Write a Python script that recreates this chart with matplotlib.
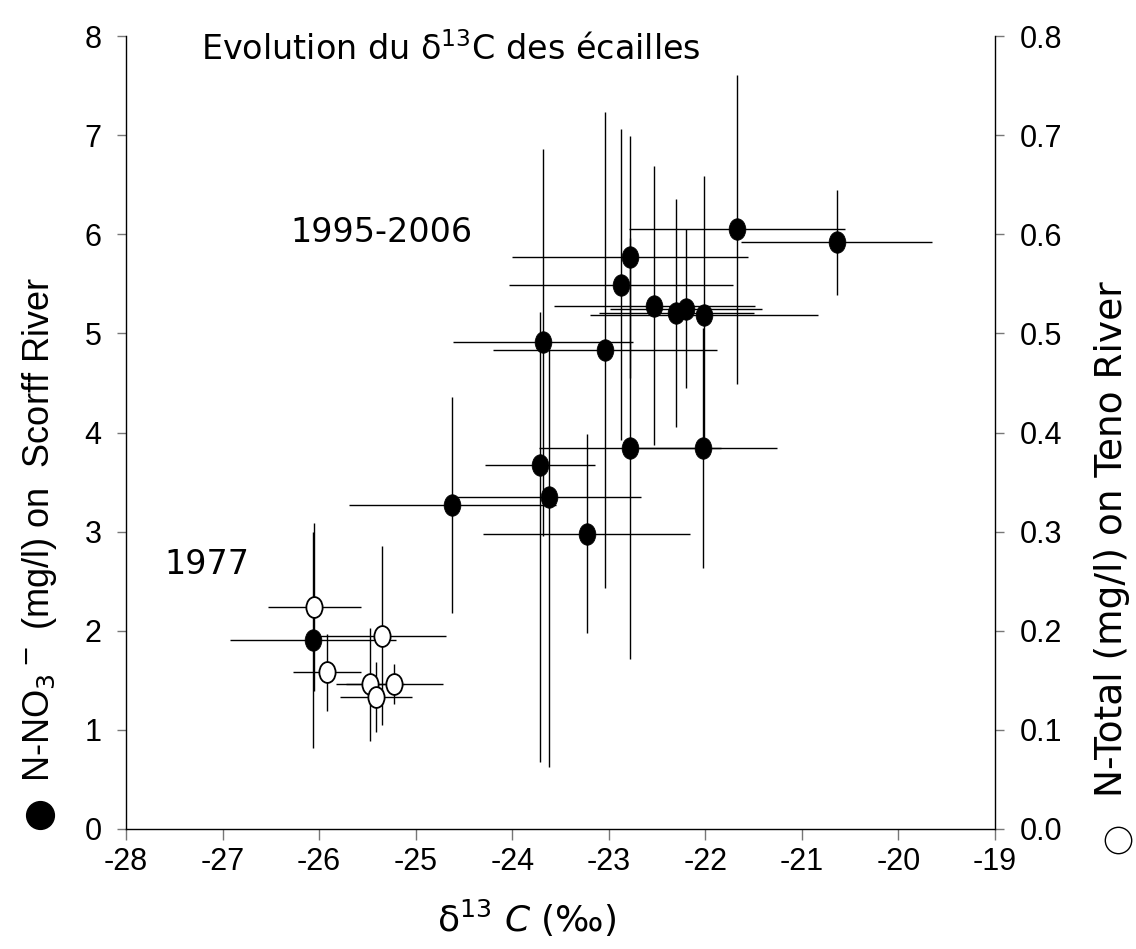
import matplotlib
matplotlib.use('Agg')
import matplotlib.pyplot as plt
from matplotlib.path import Path
from matplotlib.transforms import Affine2D
from matplotlib.lines import Line2D

# ---------------- data ----------------
# Scorff River (filled symbols, left axis): d13C of scales vs N-NO3- (mg/l)
scorff_d13c = [-20.64, -21.67, -22.78, -22.87, -22.53, -22.30, -22.20, -22.01,
               -23.68, -23.04, -22.78, -22.02, -23.71, -23.62, -24.62, -23.23, -26.06]
scorff_d13c_err = [0.99, 1.12, 1.22, 1.16, 1.04, 0.80, 0.79, 1.18,
                   0.93, 1.16, 0.94, 0.76, 0.57, 0.95, 1.07, 1.07, 0.86]
scorff_no3 = [5.92, 6.05, 5.77, 5.49, 5.28, 5.21, 5.25, 5.19,
              4.91, 4.83, 3.84, 3.84, 3.67, 3.35, 3.27, 2.98, 1.91]
scorff_no3_err_low = [0.53, 1.56, 1.22, 1.57, 1.41, 1.15, 0.80, 1.40,
                      1.95, 2.40, 2.12, 1.21, 2.99, 2.72, 1.09, 1.00, 1.09]
scorff_no3_err_high = [0.53, 1.56, 1.22, 1.57, 1.41, 1.15, 0.80, 1.40,
                       1.95, 2.40, 2.12, 1.21, 1.55, 1.49, 1.09, 1.00, 1.09]

# Teno River (open symbols, right axis): d13C vs N-Total (mg/l)
teno_d13c = [-26.05, -25.35, -25.92, -25.47, -25.22, -25.41]
teno_d13c_err = [0.48, 0.66, 0.35, 0.35, 0.50, 0.37]
teno_ntot = [0.224, 0.195, 0.158, 0.146, 0.146, 0.133]
teno_ntot_err = [0.085, 0.090, 0.039, 0.057, 0.020, 0.035]

x_ticks = [-28, -27, -26, -25, -24, -23, -22, -21, -20, -19]
y_left_ticks = [0, 1, 2, 3, 4, 5, 6, 7, 8]
y_right_ticks = [0.0, 0.1, 0.2, 0.3, 0.4, 0.5, 0.6, 0.7, 0.8]

# ---------------- figure ----------------
plt.rcParams['font.family'] = ['Liberation Sans', 'DejaVu Sans']

W, H = 1136, 949
fig = plt.figure(figsize=(W / 100, H / 100), dpi=100)

def fx(px):
    return px / W

def fy(py):
    return 1 - py / H

ax = fig.add_axes([fx(126), fy(829), (995 - 126) / W, (829 - 36) / H])
ax.set_xlim(-28, -19)
ax.set_ylim(0, 8)
ax2 = ax.twinx()
ax2.set_ylim(0, 0.8)

# ellipse marker (taller than wide)
ell = Path.unit_circle().transformed(Affine2D().scale(0.78, 1.0))

comic = ['DejaVu Sans']

# error bars
ax.errorbar(scorff_d13c, scorff_no3, xerr=scorff_d13c_err,
            yerr=[scorff_no3_err_low, scorff_no3_err_high],
            fmt='none', ecolor='black', elinewidth=1.0, capsize=0, zorder=2)
ax2.errorbar(teno_d13c, teno_ntot, xerr=teno_d13c_err, yerr=teno_ntot_err,
             fmt='none', ecolor='black', elinewidth=1.0, capsize=0, zorder=2)

ax.plot(scorff_d13c, scorff_no3, linestyle='none', marker=ell, markersize=15.5,
        markerfacecolor='black', markeredgecolor='black', markeredgewidth=0.5, zorder=3)
ax2.plot(teno_d13c, teno_ntot, linestyle='none', marker=ell, markersize=15,
         markerfacecolor='white', markeredgecolor='black', markeredgewidth=1.3, zorder=3)

# axes styling
for a in (ax, ax2):
    a.spines['top'].set_visible(False)
    for s in a.spines.values():
        s.set_linewidth(1.0)
        s.set_color('black')
ax.spines['right'].set_visible(False)
ax2.spines['left'].set_visible(False)
ax2.spines['bottom'].set_visible(False)

ax.set_xticks(x_ticks)
ax.set_xticklabels([str(t) for t in x_ticks])
ax.set_yticks(y_left_ticks)
ax.set_yticklabels([str(t) for t in y_left_ticks])
ax2.set_yticks(y_right_ticks)
ax2.set_yticklabels(['%.1f' % t for t in y_right_ticks])

ax.tick_params(axis='x', direction='out', length=8, width=1.0, color='#777777',
               pad=5, labelsize=22)
ax.tick_params(axis='y', direction='out', length=6.5, width=1.0, color='#777777',
               pad=11, labelsize=22)
ax2.tick_params(axis='y', direction='out', length=6.5, width=1.0, color='#777777',
                pad=11, labelsize=22)

# texts
fig.text(fx(451), fy(50), 'Evolution du δ$^{13}$C des écailles', ha='center', va='center',
         fontsize=24, family=comic)
ax.text(-25.35, 6.02, '1995-2006', ha='center', va='center', fontsize=24, family=comic)
ax.text(-27.16, 2.67, '1977', ha='center', va='center', fontsize=24, family=comic)
fig.text(fx(527), fy(918), 'δ$^{13}$ $\\it{C}$ (‰)', ha='center', va='center',
         fontsize=26, family=comic)

fig.text(fx(40), fy(530), 'N-NO$_3$$^-$ (mg/l) on  Scorff River', rotation=90,
         ha='center', va='center', fontsize=26)
fig.add_artist(Line2D([fx(40)], [fy(815)], marker='o', markersize=20,
                      markerfacecolor='black', markeredgecolor='black',
                      transform=fig.transFigure))
fig.text(fx(1112), fy(539), 'N-Total (mg/l) on Teno River', rotation=90,
         ha='center', va='center', fontsize=27, family=comic)
fig.add_artist(Line2D([fx(1118)], [fy(840)], marker='o', markersize=19,
                      markerfacecolor='white', markeredgecolor='black',
                      markeredgewidth=1.0, transform=fig.transFigure))

fig.savefig('out.png', dpi=100)
